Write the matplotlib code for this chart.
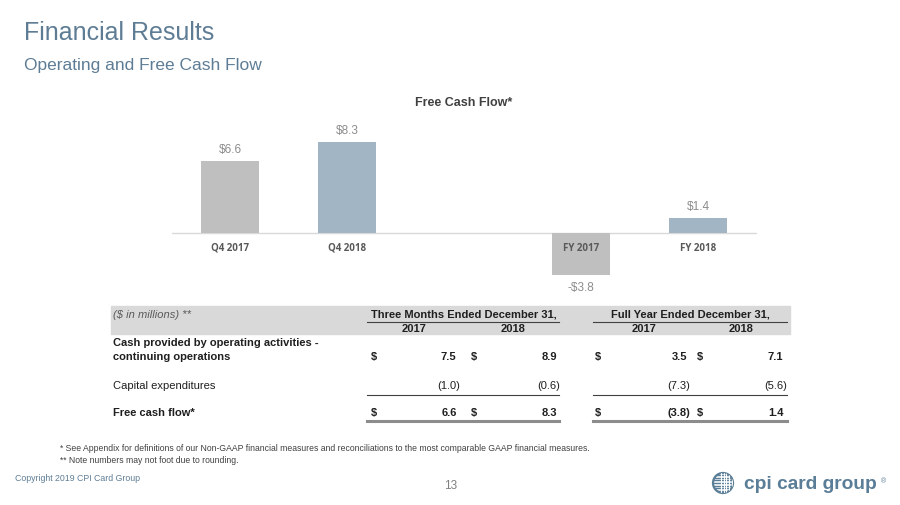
import matplotlib
matplotlib.use("Agg")
import matplotlib.pyplot as plt
import numpy as np
from matplotlib.patches import Rectangle, Circle

# ---------------- data ----------------
categories = ["Q4 2017", "Q4 2018", "FY 2017", "FY 2018"]
fcf_values = [6.6, 8.3, -3.8, 1.4]
value_labels = ["$6.6", "$8.3", "-$3.8", "$1.4"]

table_rows = ["Cash provided by operating activities -\ncontinuing operations",
              "Capital expenditures", "Free cash flow*"]
row_bold = [True, False, True]
row_dollar = [True, False, True]
q4_2017 = [7.5, -1.0, 6.6]
q4_2018 = [8.9, -0.6, 8.3]
fy_2017 = [3.5, -7.3, -3.8]
fy_2018 = [7.1, -5.6, 1.4]
group_headers = ["Three Months Ended December 31,", "Full Year Ended December 31,"]
year_headers = ["2017", "2018", "2017", "2018"]

# ---------------- style ----------------
W, H = 900, 506
fig = plt.figure(figsize=(W / 100, H / 100), dpi=100)
fig.patch.set_facecolor("white")

SANS = ["Liberation Sans", "DejaVu Sans"]
NARROW = ["Liberation Sans Narrow", "Liberation Sans", "DejaVu Sans"]
TITLE_C = "#5e7d95"
GRAY_BAR = "#bfbfbf"
BLUE_BAR = "#a2b5c4"

# overlay axes in pixel coordinates
bg = fig.add_axes([0, 0, 1, 1])
bg.set_xlim(0, W)
bg.set_ylim(H, 0)
bg.axis("off")

bg.text(24, 33, "Financial Results", fontsize=18, color=TITLE_C, family=SANS,
        va="center", ha="left")
bg.text(24, 65, "Operating and Free Cash Flow", fontsize=12.5, color=TITLE_C,
        family=SANS, va="center", ha="left")
bg.text(464, 103, "Free Cash Flow*", fontsize=9, fontweight="bold", color="#404040",
        family=SANS, va="center", ha="center")

# ---------------- bar chart ----------------
left_px, right_px = 171.5, 756.5
base_px, px_per_unit = 234.0, 10.95
top_px, bot_px = 110.0, 300.0
ax = fig.add_axes([left_px / W, 1 - bot_px / H, (right_px - left_px) / W, (bot_px - top_px) / H])
ax.set_xlim(-0.5, 4.5)
ax.set_ylim(-(bot_px - base_px) / px_per_unit, (base_px - top_px) / px_per_unit)
ax.axis("off")
ax.patch.set_alpha(0)

xpos = [i + (1 if i >= 2 else 0) for i in range(len(categories))]
colors = [GRAY_BAR, BLUE_BAR, GRAY_BAR, BLUE_BAR]
ax.bar(xpos, fcf_values, width=0.5, color=colors, zorder=2)
ax.axhline(0, color="#d9d9d9", lw=1, zorder=1)
for x, v, lab, cat in zip(xpos, fcf_values, value_labels, categories):
    off = 8.5 if v >= 0 else -9
    ax.annotate(lab, (x, v), xytext=(0, off), textcoords="offset points",
                ha="center", va="center", fontsize=8.5, color="#8c8c8c", family=SANS)
    ax.annotate(cat, (x, 0), xytext=(0, -10.2), textcoords="offset points",
                ha="center", va="center", fontsize=7, fontweight="bold",
                color="#595959", family=["Open Sans", "DejaVu Sans"], zorder=5)

# ---------------- table ----------------
TXT = "#1f1f1f"
FS = 8
bg.add_patch(Rectangle((111, 307), 790 - 111, 28, color="#d9d9d9", zorder=0))
bg.text(113, 315, "($ in millions) **", fontsize=FS, style="italic", color="#595959",
        family=NARROW, va="center", ha="left")
group_centers = [464, 690]
group_spans = [(367, 559), (593, 787)]
for hdr, cx, (x0, x1) in zip(group_headers, group_centers, group_spans):
    bg.text(cx, 314.5, hdr, fontsize=FS, fontweight="bold", color=TXT, family=NARROW,
            va="center", ha="center")
    bg.plot([x0, x1], [322.7, 322.7], color="#404040", lw=0.8)
    bg.plot([x0, x1], [395.5, 395.5], color="#404040", lw=0.8)
    bg.plot([x0, x1], [421.8, 421.8], color="#8c8c8c", lw=2.2)
year_centers = [414, 513, 644, 741]
for yh, cx in zip(year_headers, year_centers):
    bg.text(cx, 329.5, yh, fontsize=FS, fontweight="bold", color=TXT, family=NARROW,
            va="center", ha="center")

row_y = [357, 386, 413.3]
dollar_x = [371, 471, 594.5, 697]
right_x = [460, 560.5, 690.5, 787]
columns = [q4_2017, q4_2018, fy_2017, fy_2018]


def fmt(v):
    return f"({abs(v):.1f})" if v < 0 else f"{v:.1f}"


for r, (lab, y) in enumerate(zip(table_rows, row_y)):
    w = "bold" if row_bold[r] else "normal"
    lines = lab.split("\n")
    for k, line in enumerate(lines):
        ly = y - (len(lines) - 1 - k) * 14.5
        bg.text(113, ly, line, fontsize=FS, fontweight=w, color=TXT, family=NARROW,
                va="center", ha="left")
    for c, col in enumerate(columns):
        v = col[r]
        if row_dollar[r]:
            bg.text(dollar_x[c], y, "$", fontsize=FS, fontweight=w, color=TXT,
                    family=NARROW, va="center", ha="left")
        rx = right_x[c] if v < 0 else right_x[c] - 3.5
        bg.text(rx, y, fmt(v), fontsize=FS, fontweight=w, color=TXT,
                family=NARROW, va="center", ha="right")

# ---------------- footnotes ----------------
bg.text(60, 449, "* See Appendix for definitions of our Non-GAAP financial measures and "
        "reconciliations to the most comparable GAAP financial measures.",
        fontsize=6.2, color="#404040", family=SANS, va="center", ha="left")
bg.text(60, 461, "** Note numbers may not foot due to rounding.",
        fontsize=6.2, color="#404040", family=SANS, va="center", ha="left")
bg.text(15, 479, "Copyright 2019 CPI Card Group", fontsize=6.3, color=TITLE_C,
        family=SANS, va="center", ha="left")
bg.text(451, 486, "13", fontsize=8.5, color="#7f7f7f", family=SANS,
        va="center", ha="center")

# ---------------- logo ----------------
LOGO_C = "#5b7e98"
gx, gy, gr = 723, 484, 10
globe = Circle((gx, gy), gr, fill=False, ec=LOGO_C, lw=1.6)
bg.add_patch(globe)
clip = Circle((gx, gy), gr, transform=bg.transData)
for yy in np.arange(gy - 8, gy + 9, 2.7):
    ln, = bg.plot([gx - gr, gx + gr], [yy, yy], color=LOGO_C, lw=1.0)
    ln.set_clip_path(clip)
for xx in np.arange(gx - 2, gx + gr, 2.7):
    ln, = bg.plot([xx, xx], [gy - gr, gy + gr], color="white", lw=0.8)
    ln.set_clip_path(clip)
bg.text(744, 485, "cpi card group", fontsize=13.8, fontweight="bold", color=LOGO_C,
        family=SANS, va="center", ha="left")
bg.text(881, 482, "®", fontsize=5, color=LOGO_C, family=SANS, va="center", ha="left")

fig.savefig("out.png", dpi=100, facecolor="white")
